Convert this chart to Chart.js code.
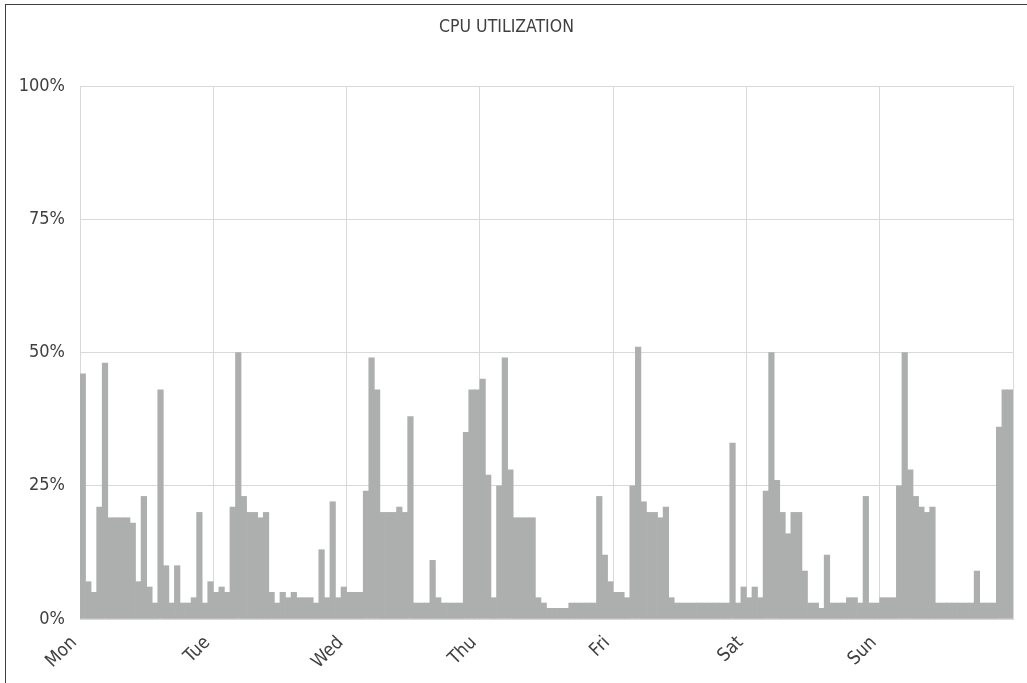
<!DOCTYPE html>
<html>
<head>
<meta charset="utf-8">
<title>CPU Utilization</title>
<script src="https://cdn.jsdelivr.net/npm/chart.js@4/dist/chart.umd.min.js"></script>
<style>
  html, body { margin: 0; padding: 0; background: #fff; overflow: hidden; }
  .edge { position: absolute; background: #3f3f3f; }
  .edge.top { left: 5px; top: 4px; width: 1022px; height: 1px; }
  .edge.left { left: 5px; top: 4px; width: 1px; height: 679px; }
  #cpu { position: absolute; left: 0; top: 0; }
</style>
</head>
<body>
<div class="edge top"></div>
<div class="edge left"></div>
<canvas id="cpu" width="1027" height="683"></canvas>
<script>
// hourly CPU load, % (24 samples per day)
var DAYS = ["Mon", "Tue", "Wed", "Thu", "Fri", "Sat", "Sun"];
var MON = [46, 7, 5, 21, 48, 19, 19, 19, 19, 18, 7, 23, 6, 3, 43, 10, 3, 10, 3, 3, 4, 20, 3, 7];
var TUE = [5, 6, 5, 21, 50, 23, 20, 20, 19, 20, 5, 3, 5, 4, 5, 4, 4, 4, 3, 13, 4, 22, 4, 6];
var WED = [5, 5, 5, 24, 49, 43, 20, 20, 20, 21, 20, 38, 3, 3, 3, 11, 4, 3, 3, 3, 3, 35, 43, 43];
var THU = [45, 27, 4, 25, 49, 28, 19, 19, 19, 19, 4, 3, 2, 2, 2, 2, 3, 3, 3, 3, 3, 23, 12, 7];
var FRI = [5, 5, 4, 25, 51, 22, 20, 20, 19, 21, 4, 3, 3, 3, 3, 3, 3, 3, 3, 3, 3, 33, 3, 6];
var SAT = [4, 6, 4, 24, 50, 26, 20, 16, 20, 20, 9, 3, 3, 2, 12, 3, 3, 3, 4, 4, 3, 23, 3, 3];
var SUN = [4, 4, 4, 25, 50, 28, 23, 21, 20, 21, 3, 3, 3, 3, 3, 3, 3, 9, 3, 3, 3, 36, 43, 43];
var Y_TICKS = [0, 25, 50, 75, 100];

var FONT = '"Liberation Sans Narrow", "Arial Narrow", "DejaVu Sans Condensed", sans-serif';
var TEXT = "#404040";
var GRID = "#d9d9d9";

var hours = [].concat(MON, TUE, WED, THU, FRI, SAT, SUN);
var points = hours.map(function (v, i) {
  return { x: i + 0.5, y: v };
});

new Chart(document.getElementById("cpu"), {
  type: "bar",
  data: {
    datasets: [
      {
        label: "CPU",
        data: points,
        backgroundColor: "#adafae",
        borderWidth: 0,
        barPercentage: 1,
        categoryPercentage: 1,
      },
    ],
  },
  options: {
    responsive: false,
    animation: false,
    layout: { padding: { left: 0, right: 14, top: 0, bottom: 0 } },
    plugins: {
      legend: { display: false },
      tooltip: { enabled: false },
      title: {
        display: true,
        text: "CPU UTILIZATION",
        color: TEXT,
        font: { family: FONT, size: 17.5, weight: "normal", lineHeight: 1.2 },
        padding: { top: 17, bottom: 48 },
      },
    },
    scales: {
      x: {
        type: "linear",
        min: 0,
        max: DAYS.length * 24,
        offset: false,
        grid: { color: GRID, lineWidth: 1, drawTicks: false, offset: false },
        border: { display: true, color: GRID },
        afterBuildTicks: function (scale) {
          scale.ticks = DAYS.map(function (_, i) {
            return { value: i * 24 };
          }).concat([{ value: DAYS.length * 24 }]);
        },
        afterFit: function (scale) {
          // keep the plot edges fixed, whatever the rotated labels want
          scale.height = 64;
          scale.paddingLeft = 0;
          scale.paddingRight = 0;
        },
        ticks: {
          autoSkip: false,
          maxRotation: 45,
          minRotation: 45,
          padding: 13,
          labelOffset: -6,
          color: TEXT,
          font: { family: FONT, size: 18.5 },
          callback: function (value) {
            return DAYS[value / 24] || "";
          },
        },
      },
      y: {
        min: 0,
        max: 100,
        grid: { color: GRID, lineWidth: 1, drawTicks: false },
        border: { display: true, color: GRID },
        afterBuildTicks: function (scale) {
          scale.ticks = Y_TICKS.map(function (v) {
            return { value: v };
          });
        },
        afterFit: function (scale) {
          scale.width = 80;
        },
        ticks: {
          padding: 15,
          color: TEXT,
          font: { family: FONT, size: 18 },
          callback: function (value) {
            return value + "%";
          },
        },
      },
    },
  },
});
</script>
</body>
</html>
